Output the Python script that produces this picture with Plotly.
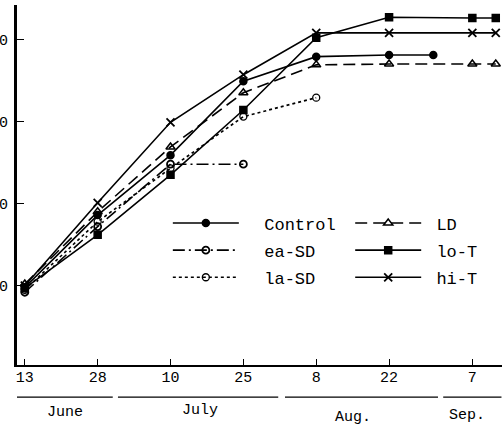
import plotly.graph_objects as go

# sampling positions (days after 13 June, as spaced on the chart) and tick labels
tick_pos = [0, 14, 28, 42, 56, 70, 86]
tick_labels = ["13", "28", "10", "25", "8", "22", "7"]

y_ticks = [10, 20, 30, 40]
y_ticklabels = ["0", "0", "0", "0"]

months = ["June", "July", "Aug.", "Sep."]

control_x = [0, 14, 28, 42, 56, 70, 78.5]
control_y = [9.8, 18.6, 25.9, 34.9, 37.9, 38.1, 38.1]

ea_sd_x = [0, 14, 28, 42]
ea_sd_y = [9.2, 17.2, 24.8, 24.8]

la_sd_x = [0, 14, 28, 42, 56]
la_sd_y = [9.5, 17.8, 24.3, 30.6, 32.9]

ld_x = [0, 14, 28, 42, 56, 70, 86, 90.5]
ld_y = [10.2, 19.0, 26.9, 33.5, 36.9, 37.0, 37.0, 37.0]

lo_t_x = [0, 14, 28, 42, 56, 70, 86, 90.5]
lo_t_y = [9.7, 16.2, 23.5, 31.4, 40.2, 42.7, 42.6, 42.6]

hi_t_x = [0, 14, 28, 42, 56, 70, 86, 90.5]
hi_t_y = [10.0, 20.1, 29.9, 35.7, 40.8, 40.8, 40.8, 40.8]

FONT = "Liberation Mono"
NB = "\u00a0"

fig = go.Figure()

def add(name, x, y, dash, symbol, legend, pad, msize=7, mline=1.5):
    fig.add_trace(go.Scatter(
        x=x, y=y, name=NB * pad + name, mode="lines+markers",
        legend=legend, legendgroup=name,
        line=dict(color="black", width=1.6, dash=dash),
        marker=dict(symbol=symbol, size=msize, color="black",
                    line=dict(color="black", width=mline)),
    ))

add("Control", control_x, control_y, "solid", "circle", "legend", 2)
add("ea-SD", ea_sd_x, ea_sd_y, "12px,4px,2px,4px", "circle-open", "legend", 2, 7, 1.8)
add("la-SD", la_sd_x, la_sd_y, "3px,3px", "circle-open", "legend", 2, 7, 1.3)
add("LD", ld_x, ld_y, "12px,6px", "triangle-up-open", "legend2", 1, 8)
add("lo-T", lo_t_x, lo_t_y, "solid", "square", "legend2", 1)
add("hi-T", hi_t_x, hi_t_y, "solid", "x-thin-open", "legend2", 1, 8, 1.8)

# month underlines and labels
month_spans = [(-1.9, 16.9), (17.9, 48.7), (50.0, 79.4), (80.4, 91.6)]
month_centers = [7.7, 33.6, 63.0, 85.0]
month_y = [-0.133, -0.127, -0.147, -0.141]
for (a, b), cx, my, m in zip(month_spans, month_centers, month_y, months):
    fig.add_shape(type="line", xref="x", yref="paper", x0=a, x1=b, y0=-0.089, y1=-0.089,
                  line=dict(color="black", width=1.3))
    fig.add_annotation(x=cx, y=my, xref="x", yref="paper", text=m, showarrow=False,
                       font=dict(family=FONT, size=15, color="black"), yanchor="middle")

legend_common = dict(orientation="v", xanchor="left", yanchor="top",
                     itemwidth=66, tracegroupgap=2, bgcolor="rgba(0,0,0,0)",
                     font=dict(family=FONT, size=17, color="black"))

fig.update_layout(
    width=502, height=429,
    margin=dict(l=17, r=0, t=5, b=64, autoexpand=False),
    paper_bgcolor="white", plot_bgcolor="white",
    font=dict(family=FONT, color="black"),
    showlegend=True,
    legend=dict(x=0.311, y=0.443, **legend_common),
    legend2=dict(x=0.687, y=0.443, **legend_common),
    xaxis=dict(range=[-1.5, 91.7], tickvals=tick_pos, ticktext=tick_labels,
               showline=True, linecolor="black", linewidth=2, ticks="inside",
               ticklen=6, tickwidth=1.3, tickcolor="black", showgrid=False,
               zeroline=False, automargin=False, ticklabelstandoff=-3,
               tickfont=dict(family=FONT, size=15, color="black")),
    yaxis=dict(range=[0.34, 44.19], tickvals=y_ticks, ticktext=y_ticklabels,
               showline=True, linecolor="black", linewidth=3, ticks="inside",
               ticklen=7, tickwidth=1.3, tickcolor="black", showgrid=False,
               zeroline=False, automargin=False, ticklabelstandoff=3,
               tickfont=dict(family=FONT, size=15, color="black")),
)

fig.write_html("out.html", config={"displayModeBar": False},
               post_script="document.body.style.margin='0';")
